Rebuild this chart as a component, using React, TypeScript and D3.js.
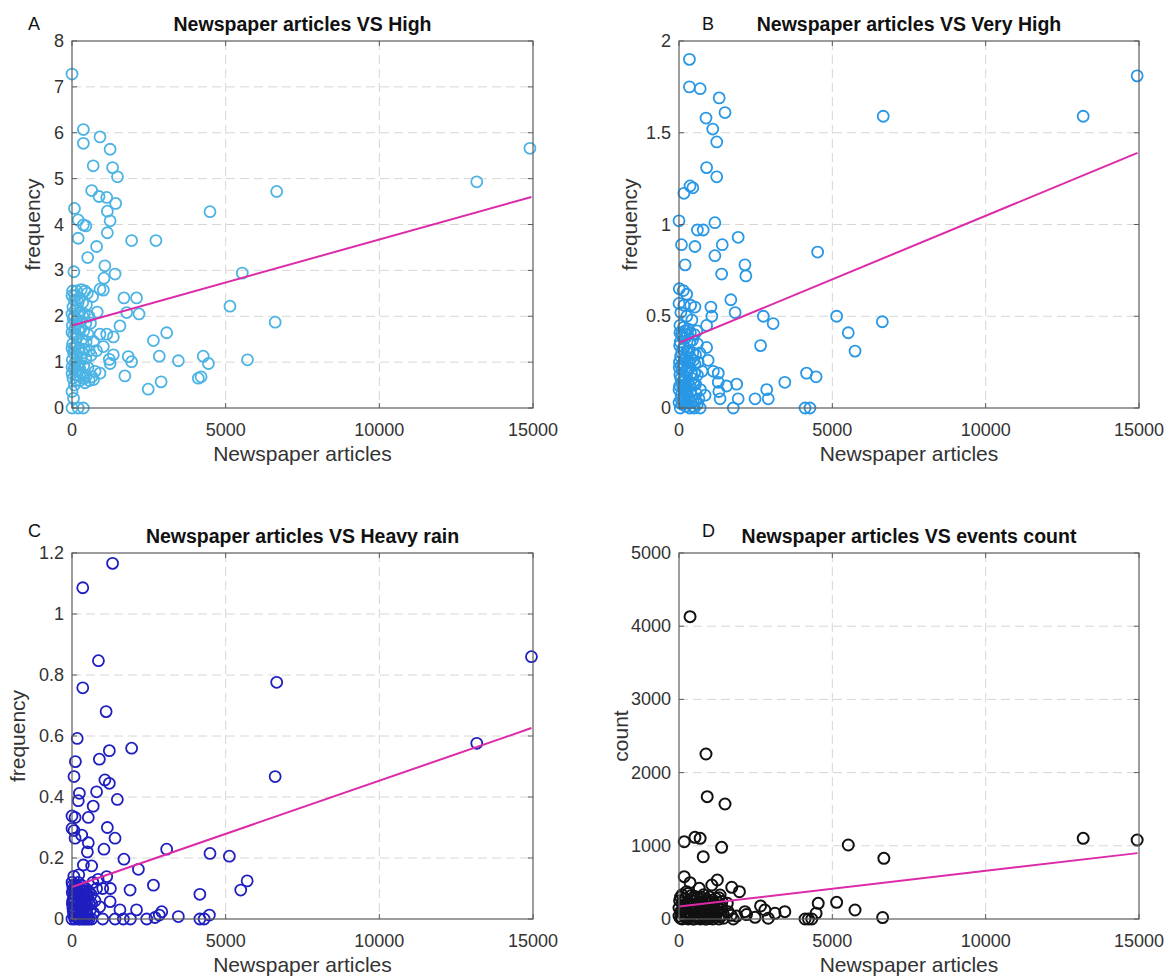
import React from "react";
import * as d3 from "d3";

// x ticks shared by all four panels
const articleTicks = [0, 5000, 10000, 15000];
const highTicks = [0, 1, 2, 3, 4, 5, 6, 7, 8];
const veryHighTicks = [0, 0.5, 1, 1.5, 2];
const heavyRainTicks = [0, 0.2, 0.4, 0.6, 0.8, 1, 1.2];
const eventTicks = [0, 1000, 2000, 3000, 4000, 5000];

// [newspaper articles, frequency]
const highPoints: [number, number][] = [
  [0, 7.28], [370, 6.07], [370, 5.77], [910, 5.91], [1240, 5.64], [690, 5.28], [1320, 5.24], [1480, 5.04],
  [640, 4.74], [880, 4.61], [1130, 4.59], [1420, 4.46], [80, 4.35], [1150, 4.29], [4490, 4.28], [6660, 4.72],
  [200, 4.1], [1240, 4.08], [370, 3.99], [450, 3.97], [1150, 3.82], [200, 3.7], [1940, 3.65], [2730, 3.65],
  [800, 3.52], [510, 3.28], [1070, 3.1], [1040, 2.83], [1400, 2.92], [60, 2.97], [5540, 2.94], [910, 2.59],
  [1020, 2.57], [670, 2.43], [1690, 2.4], [2100, 2.4], [1780, 2.08], [2180, 2.05], [5140, 2.22], [6610, 1.87],
  [820, 2.09], [1560, 1.79], [910, 1.61], [1130, 1.61], [1345, 1.55], [2650, 1.47], [3080, 1.64], [1020, 1.34],
  [1345, 1.16], [1215, 1.06], [1830, 1.12], [1940, 1.01], [2840, 1.13], [3460, 1.03], [4270, 1.13], [4440, 0.97],
  [5710, 1.05], [1240, 0.97], [910, 0.76], [1720, 0.7], [4110, 0.65], [4200, 0.68], [2480, 0.41], [2900, 0.57],
  [0, 0.36], [50, 0.21], [0, 0], [200, 0], [370, 0], [13170, 4.93], [14900, 5.66],
  [20, 2.55], [150, 2.55], [300, 2.58], [420, 2.55], [500, 2.5], [80, 2.35], [200, 2.3], [350, 2.3],
  [470, 2.25], [30, 2.2], [120, 2.15], [260, 2.1], [400, 2.05], [550, 2.0], [40, 1.95], [160, 1.92],
  [300, 1.9], [450, 1.85], [600, 1.85], [10, 1.8], [100, 1.75], [220, 1.7], [380, 1.68], [520, 1.6],
  [60, 1.6], [180, 1.55], [320, 1.5], [460, 1.45], [700, 1.45], [20, 1.4], [130, 1.35], [250, 1.3],
  [400, 1.28], [560, 1.25], [50, 1.2], [170, 1.15], [300, 1.1], [450, 1.08], [620, 1.15], [10, 1.05],
  [110, 1.0], [230, 0.95], [380, 0.92], [520, 0.88], [60, 0.85], [180, 0.8], [320, 0.75], [470, 0.7],
  [650, 0.68], [30, 0.65], [140, 0.6], [260, 0.6], [420, 0.55], [560, 0.6], [80, 0.5], [700, 0.62],
  [750, 0.8], [800, 1.25],
  [0, 2.45], [90, 2.45], [250, 2.4], [0, 2.05], [70, 2.0], [200, 2.02], [350, 2.0], [0, 1.65],
  [130, 1.6], [280, 1.72], [0, 1.3], [80, 1.3], [200, 1.25], [350, 1.2], [0, 0.9], [100, 0.88],
  [250, 0.85], [0, 0.75], [120, 0.72], [250, 0.7], [400, 0.65],
];

const veryHighPoints: [number, number][] = [
  [340, 1.9], [340, 1.75], [690, 1.74], [1310, 1.69], [1500, 1.61], [880, 1.58], [1100, 1.52], [1230, 1.45],
  [6660, 1.59], [900, 1.31], [1230, 1.26], [160, 1.17], [360, 1.21], [450, 1.2], [0, 1.02], [600, 0.97],
  [790, 0.97], [1170, 1.01], [80, 0.89], [520, 0.88], [1410, 0.89], [1930, 0.93], [1170, 0.83], [4520, 0.85],
  [200, 0.78], [1390, 0.73], [2150, 0.78], [2180, 0.72], [1040, 0.55], [1690, 0.59], [1830, 0.52], [2750, 0.5],
  [3070, 0.46], [5140, 0.5], [5520, 0.41], [5740, 0.31], [6630, 0.47], [1070, 0.5], [900, 0.45], [2660, 0.34],
  [900, 0.33], [950, 0.26], [1120, 0.2], [1280, 0.19], [1550, 0.12], [1880, 0.13], [1300, 0.09], [3450, 0.14],
  [4160, 0.19], [4470, 0.17], [2480, 0.05], [2860, 0.1], [2910, 0.05], [1930, 0.05], [1770, 0], [4110, 0],
  [4270, 0], [1340, 0.05], [850, 0.07], [690, 0], [1280, 0.14], [13180, 1.59], [14940, 1.81],
  [10, 0.65], [140, 0.64], [250, 0.62], [0, 0.57], [160, 0.56], [380, 0.56], [520, 0.55], [60, 0.52],
  [250, 0.5], [420, 0.48], [30, 0.45], [150, 0.44], [300, 0.43], [500, 0.4], [80, 0.4], [200, 0.38],
  [350, 0.36], [600, 0.35], [20, 0.34], [120, 0.32], [260, 0.31], [450, 0.3], [50, 0.28], [180, 0.26],
  [330, 0.25], [520, 0.24], [10, 0.22], [100, 0.21], [230, 0.2], [400, 0.19], [600, 0.18], [60, 0.16],
  [160, 0.15], [300, 0.14], [480, 0.13], [20, 0.12], [120, 0.11], [250, 0.1], [380, 0.09], [560, 0.08],
  [70, 0.07], [180, 0.06], [320, 0.05], [460, 0.04], [0, 0.03], [100, 0.02], [220, 0.01], [350, 0],
  [500, 0], [40, 0], [600, 0.02], [700, 0.1], [750, 0.2],
  [30, 0.41], [110, 0.39], [190, 0.42], [280, 0.4], [370, 0.41], [440, 0.37], [40, 0.36], [90, 0.3],
  [170, 0.33], [230, 0.28], [310, 0.3], [390, 0.27], [470, 0.26], [540, 0.29], [15, 0.25], [70, 0.23],
  [140, 0.24], [200, 0.17], [280, 0.21], [350, 0.22], [430, 0.16], [510, 0.19], [30, 0.18], [90, 0.14],
  [150, 0.12], [210, 0.13], [270, 0.08], [350, 0.12], [410, 0.07], [540, 0.13], [0, 0.1], [60, 0.05],
  [130, 0.04], [200, 0.09], [260, 0.03], [400, 0.03], [450, 0.01], [550, 0.04], [650, 0.05], [620, 0.25],
  [680, 0.3], [580, 0.42],
];

const heavyRainPoints: [number, number][] = [
  [350, 1.086], [1320, 1.166], [860, 0.847], [350, 0.758], [1110, 0.68], [6660, 0.776], [170, 0.592], [110, 0.516],
  [1215, 0.552], [890, 0.524], [1940, 0.56], [65, 0.467], [1070, 0.456], [1215, 0.445], [6610, 0.467], [240, 0.412],
  [205, 0.388], [800, 0.417], [1475, 0.392], [690, 0.37], [0, 0.338], [100, 0.333], [530, 0.333], [0, 0.297],
  [65, 0.29], [1150, 0.3], [315, 0.275], [100, 0.265], [1400, 0.265], [530, 0.25], [500, 0.22], [1040, 0.229],
  [3080, 0.229], [4490, 0.215], [5120, 0.206], [1690, 0.196], [370, 0.177], [640, 0.174], [2160, 0.163], [60, 0.14],
  [220, 0.145], [1130, 0.139], [5700, 0.125], [5490, 0.095], [2650, 0.111], [1890, 0.095], [4160, 0.081], [1000, 0.1],
  [1250, 0.1], [1240, 0.057], [1560, 0.03], [2100, 0.03], [2920, 0.024], [2840, 0.013], [3460, 0.008], [4470, 0.013],
  [4160, 0], [4300, 0], [2430, 0], [2700, 0.005], [1400, 0], [1670, 0], [1900, 0], [1000, 0],
  [640, 0], [13170, 0.576], [14950, 0.86],
  [0, 0.12], [100, 0.11], [200, 0.12], [320, 0.11], [450, 0.1], [550, 0.09], [30, 0.095], [150, 0.09],
  [260, 0.085], [380, 0.08], [500, 0.075], [60, 0.07], [180, 0.065], [300, 0.06], [420, 0.055], [560, 0.05],
  [10, 0.05], [120, 0.045], [240, 0.04], [360, 0.035], [480, 0.03], [600, 0.03], [40, 0.025], [160, 0.02],
  [280, 0.015], [400, 0.01], [520, 0.01], [0, 0], [90, 0], [200, 0], [320, 0], [440, 0],
  [560, 0], [700, 0.02], [750, 0.06], [800, 0.1], [680, 0.12], [900, 0.04], [850, 0.13],
  [20, 0.11], [70, 0.1], [130, 0.1], [170, 0.11], [230, 0.1], [280, 0.1], [350, 0.095], [410, 0.09],
  [470, 0.085], [10, 0.085], [90, 0.08], [200, 0.075], [250, 0.07], [330, 0.07], [450, 0.065], [530, 0.065],
  [20, 0.06], [80, 0.055], [150, 0.05], [210, 0.05], [270, 0.045], [340, 0.05], [390, 0.04], [460, 0.045],
  [30, 0.035], [100, 0.03], [200, 0.025], [340, 0.02], [460, 0.015], [60, 0.01], [150, 0.005], [250, 0],
  [380, 0], [500, 0], [620, 0.08], [640, 0.05],
];

const eventPoints: [number, number][] = [
  [360, 4130], [880, 2254], [920, 1671], [1500, 1571], [170, 1056], [520, 1116], [690, 1102], [1390, 979],
  [790, 851], [5520, 1011], [6680, 829], [170, 578], [360, 496], [1250, 533], [1070, 464], [1720, 433],
  [1970, 373], [660, 419], [250, 373], [1340, 328], [1575, 214], [4540, 214], [5140, 228], [5740, 123],
  [2660, 178], [2800, 123], [3130, 78], [3450, 100], [4470, 78], [2150, 100], [2480, 23], [2910, 10],
  [1770, 0], [1880, 40], [4110, 0], [4220, 0], [4330, 0], [6640, 20], [2200, 60], [13180, 1102], [14940, 1079],
  [50, 300], [200, 280], [400, 320], [600, 290], [800, 330], [1000, 300], [1200, 280], [100, 220],
  [300, 240], [500, 200], [700, 230], [900, 210], [1100, 190], [1300, 220], [0, 150], [150, 160],
  [350, 140], [550, 170], [750, 150], [950, 130], [1150, 140], [1400, 160], [60, 100], [250, 90],
  [450, 110], [650, 80], [850, 95], [1050, 70], [1250, 90], [1450, 60], [0, 40], [200, 30],
  [400, 50], [600, 20], [800, 40], [1000, 10], [1200, 30], [100, 0], [300, 0], [500, 0],
  [700, 0], [900, 0], [1300, 0], [1600, 100], [1700, 50],
  [100, 330], [300, 350], [500, 310], [700, 300], [900, 270], [1100, 260], [1300, 290], [20, 250],
  [250, 200], [450, 250], [650, 190], [850, 250], [1050, 230], [1250, 180], [1400, 240], [100, 120],
  [300, 180], [500, 130], [700, 120], [900, 160], [1100, 100], [1300, 130], [150, 60], [350, 70],
  [550, 50], [750, 60], [950, 50], [1150, 60], [1350, 40], [50, 10], [250, 10], [450, 0],
  [650, 10], [850, 0], [1100, 0], [1450, 10],
];

// least-squares lines, read at both ends
const fitX = [0, 14950];
const fitHigh = [1.8, 4.6];
const fitVeryHigh = [0.355, 1.39];
const fitHeavyRain = [0.105, 0.626];
const fitEvents = [170, 900];

const FONT = "'Liberation Sans', Arial, Helvetica, sans-serif";

interface PanelProps {
  left: number; top: number; width: number; height: number;
  yTicks: number[];
  points: [number, number][];
  fit: number[];
  color: string;
  strokeW: number;
  title: string;
  letter: string;
  letterX: number;
  letterY: number;
  yLabel: string;
  yLabelX: number;
}

function Panel(p: PanelProps) {
  const { left, top, width, height, yTicks } = p;
  const x = d3.scaleLinear().domain([0, 15000]).range([left, left + width]);
  const y = d3.scaleLinear().domain([yTicks[0], yTicks[yTicks.length - 1]]).range([top + height, top]);
  const line = d3.line<number>().x((_, i) => x(fitX[i])).y(d => y(d));
  const bottom = top + height, right = left + width;
  const tk = 5;
  const gridCol = "#d6d6d6";
  const axisCol = "#5c5c5c";
  return (
    <g>
      {/* grid */}
      {articleTicks.slice(1, -1).map(t => (
        <line key={"gx" + t} x1={x(t)} x2={x(t)} y1={top} y2={bottom} stroke={gridCol} strokeDasharray="9,5" />
      ))}
      {yTicks.slice(1, -1).map(t => (
        <line key={"gy" + t} x1={left} x2={right} y1={y(t)} y2={y(t)} stroke={gridCol} strokeDasharray="9,5" />
      ))}
      {/* markers */}
      {p.points.map((d, i) => (
        <circle key={i} cx={x(d[0])} cy={y(d[1])} r={5.5} fill="none" stroke={p.color} strokeWidth={p.strokeW} />
      ))}
      {/* fit */}
      <path d={line(p.fit) || ""} fill="none" stroke="#dc2aa8" strokeWidth={2} />
      {/* box + ticks */}
      <rect x={left} y={top} width={width} height={height} fill="none" stroke={axisCol} strokeWidth={1.2} />
      {articleTicks.map(t => (
        <g key={"tx" + t}>
          <line x1={x(t)} x2={x(t)} y1={bottom} y2={bottom - tk} stroke={axisCol} />
          <line x1={x(t)} x2={x(t)} y1={top} y2={top + tk} stroke={axisCol} />
          <text x={x(t)} y={bottom + 28} textAnchor="middle" fontSize={18} fill="#333">{t}</text>
        </g>
      ))}
      {yTicks.map(t => (
        <g key={"ty" + t}>
          <line x1={left} x2={left + tk} y1={y(t)} y2={y(t)} stroke={axisCol} />
          <line x1={right} x2={right - tk} y1={y(t)} y2={y(t)} stroke={axisCol} />
          <text x={left - 8} y={y(t) + 6} textAnchor="end" fontSize={18} fill="#333">{t}</text>
        </g>
      ))}
      <text x={(left + right) / 2} y={bottom + 53} textAnchor="middle" fontSize={21} fill="#333">Newspaper articles</text>
      <text transform={`translate(${p.yLabelX},${(top + bottom) / 2}) rotate(-90)`} textAnchor="middle" fontSize={21} fill="#333">{p.yLabel}</text>
      <text x={(left + right) / 2} y={top - 10} textAnchor="middle" fontSize={19.5} fontWeight="bold" fill="#111">{p.title}</text>
      <text x={p.letterX} y={p.letterY} fontSize={18} fill="#111">{p.letter}</text>
    </g>
  );
}

export default function App() {
  return (
    <svg width={1168} height={979} style={{ position: "absolute", left: 0, top: 0, background: "#fff" }} fontFamily={FONT}>
      <rect width={1168} height={979} fill="#fff" />
      <Panel left={72} top={41} width={461} height={367} yTicks={highTicks} points={highPoints} fit={fitHigh}
        color="#4cb4e4" strokeW={1.8} title="Newspaper articles VS High" letter="A" letterX={28} letterY={30}
        yLabel="frequency" yLabelX={40} />
      <Panel left={679} top={41} width={460} height={367} yTicks={veryHighTicks} points={veryHighPoints} fit={fitVeryHigh}
        color="#2898e6" strokeW={1.8} title="Newspaper articles VS Very High" letter="B" letterX={702} letterY={30}
        yLabel="frequency" yLabelX={637} />
      <Panel left={72} top={553} width={461} height={366} yTicks={heavyRainTicks} points={heavyRainPoints} fit={fitHeavyRain}
        color="#1f1fc0" strokeW={1.8} title="Newspaper articles VS Heavy rain" letter="C" letterX={28} letterY={537}
        yLabel="frequency" yLabelX={25} />
      <Panel left={679} top={553} width={460} height={366} yTicks={eventTicks} points={eventPoints} fit={fitEvents}
        color="#111" strokeW={2} title="Newspaper articles VS events count" letter="D" letterX={702} letterY={537}
        yLabel="count" yLabelX={628} />
    </svg>
  );
}
